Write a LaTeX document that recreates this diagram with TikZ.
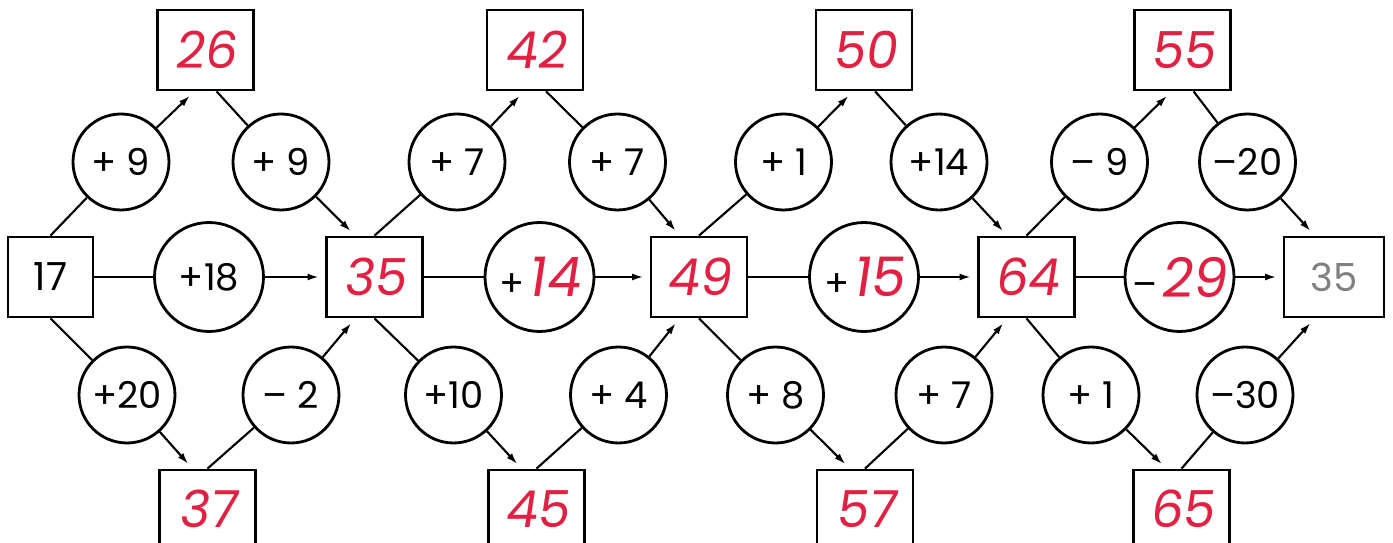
\documentclass[tikz,border=0pt]{standalone}
\usepackage{fontspec}
\usepackage{xcolor}
\usepackage{tikz}
\usetikzlibrary{arrows.meta}
\newfontfamily\letterfont{Poppins}
\newfontfamily\handfont[FakeSlant=0.15]{Poppins}
\definecolor{penred}{RGB}{226,32,66}
\newcommand\redpart[1]{\kern1.5pt{\color{penred}\handfont\fontsize{31}{31}\selectfont #1}}

\begin{document}
\begin{tikzpicture}[x=0.02cm,y=-0.02cm,
  box/.style={draw,line width=1.6pt,minimum width=1.92cm,minimum height=1.6cm,inner sep=0pt},
  start/.style={box,font=\letterfont\fontsize{22}{22}\selectfont},
  res/.style={box,text=penred,font=\handfont\fontsize{29}{29}\selectfont},
  low/.style={res,text depth=0.15em},
  op/.style={circle,draw,line width=1.6pt,minimum size=1.92cm,inner sep=0pt,font=\letterfont\fontsize{21}{21}\selectfont},
  bigop/.style={op,minimum size=2.18cm},
  link/.style={line width=1.2pt},
  arr/.style={link,-{Latex[length=6.5pt,width=4pt]},shorten >=3.5pt}]
\clip (0,0) rectangle (1393,543);

\node[start,minimum width=1.7cm] (b17) at (50.5,277) {17};
\node[res] (b35) at (374.5,277) {35};
\node[res] (b49) at (699,277) {49};
\node[res] (b64) at (1026.5,277) {64};
\node[start,minimum width=2cm,text=black!50] (bend) at (1334,277) {35};

\node[res] (b26) at (205.5,50) {26};
\node[res] (b42) at (535,50) {42};
\node[res] (b50) at (864,50) {50};
\node[res] (b55) at (1182.5,50) {55};

\node[low] (b37) at (207.5,510) {37};
\node[low] (b45) at (536.5,510) {45};
\node[low] (b57) at (865,510) {57};
\node[low] (b65) at (1181.5,510) {65};

\node[op] (ta1) at (121,162) {+ 9};
\node[op] (tb1) at (281,162) {+ 9};
\node[op] (ta2) at (457,162) {+ 7};
\node[op] (tb2) at (617.5,162) {+ 7};
\node[op] (ta3) at (783.5,162) {+ 1};
\node[op] (tb3) at (939,162) {+14};
\node[op] (ta4) at (1099.5,162) {– 9};
\node[op] (tb4) at (1247.5,162) {–20};

\node[op] (ba1) at (127,395) {+20};
\node[op] (bb1) at (291,395) {– 2};
\node[op] (ba2) at (453.5,395) {+10};
\node[op] (bb2) at (618.5,395) {+ 4};
\node[op] (ba3) at (775.5,395) {+ 8};
\node[op] (bb3) at (944,395) {+ 7};
\node[op] (ba4) at (1091,395) {+ 1};
\node[op] (bb4) at (1245,395) {–30};

\node[bigop] (m1) at (209,277) {+18};
\node[bigop] (m2) at (539.5,277) {+\redpart{14}};
\node[bigop] (m3) at (864,277) {+\redpart{15}};
\node[bigop] (m4) at (1179.5,277) {–\redpart{29}};

\foreach \l/\t/\r/\b [count=\i] in {b17/b26/b35/b37,b35/b42/b49/b45,b49/b50/b64/b57,b64/b55/bend/b65}{
  \draw[link] (\l.north) -- (ta\i);
  \draw[arr] (ta\i) -- (\t.255);
  \draw[link] (\t.285) -- (tb\i);
  \draw[arr] (tb\i) -- (\r.115);
  \draw[link] (\l) -- (m\i);
  \draw[arr] (m\i) -- (\r);
  \draw[link] (\l.south) -- (ba\i);
  \draw[arr] (ba\i) -- (\b.110);
  \draw[link] (\b.north) -- (bb\i);
  \draw[arr] (bb\i) -- (\r.245);
}
\end{tikzpicture}
\end{document}
